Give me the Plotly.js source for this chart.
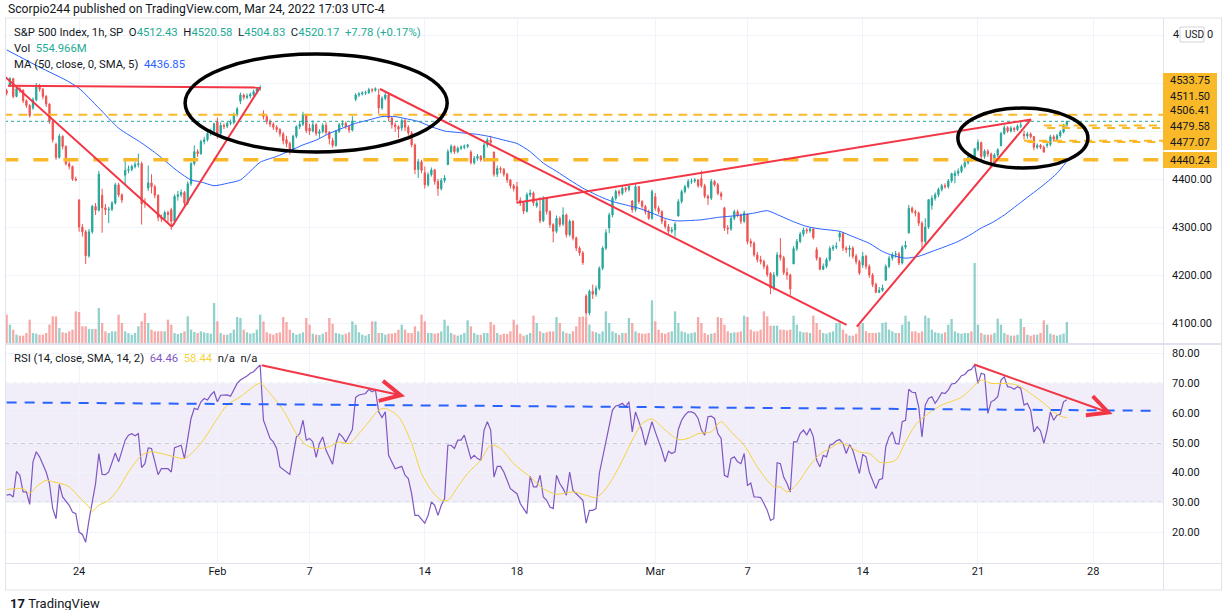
<!DOCTYPE html>
<html>
<head>
<meta charset="utf-8">
<script src="https://cdn.plot.ly/plotly-3.0.1.min.js"></script>
<style>
  html, body { margin: 0; padding: 0; background: #ffffff; }
  #chart { width: 1225px; height: 610px; }
</style>
</head>
<body>
<div id="chart"></div>
<script>
// S&P 500 index, 1h bars, 18 Jan - 24 Mar 2022 (bar 0 = first bar of 24 Jan)
var firstBar = -22;

// one line per trading day (7 hourly bars)
var opens = [4584,
  4595, 4609, 4572, 4588, 4585, 4563, 4553,
  4548, 4565, 4594, 4587, 4572, 4556, 4520,
  4472, 4445, 4489, 4468, 4432, 4426, 4400,
  4356, 4300, 4290, 4240, 4290, 4343, 4335,
  4366, 4340, 4336, 4337, 4350, 4388, 4367,
  4408, 4418, 4420, 4426, 4430, 4432, 4352,
  4381, 4392, 4384, 4366, 4320, 4318, 4330,
  4336, 4312, 4364, 4367, 4372, 4350, 4390,
  4432, 4457, 4453, 4478, 4482, 4495, 4500,
  4520, 4495, 4512, 4510, 4516, 4518, 4534,
  4562, 4575, 4570, 4573, 4576, 4582, 4589,
  4536, 4530, 4520, 4514, 4508, 4503, 4494,
  4482, 4474, 4460, 4489, 4509, 4514, 4534,
  4506, 4500, 4513, 4495, 4499, 4512, 4497,
  4480, 4470, 4499, 4513, 4516, 4509, 4502,
  4566, 4575, 4577, 4579, 4580, 4586, 4585,
  4575, 4548, 4568, 4575, 4527, 4513, 4509,
  4506, 4522, 4508, 4496, 4471, 4420, 4436,
  4413, 4388, 4409, 4419, 4395, 4380, 4397,
  4430, 4457, 4468, 4457, 4464, 4466, 4468,
  4456, 4434, 4443, 4447, 4440, 4471, 4481,
  4456, 4410, 4422, 4420, 4410, 4398, 4386,
  4384, 4356, 4350, 4333, 4367, 4371, 4344,
  4333, 4313, 4360, 4332, 4305, 4291, 4318,
  4306, 4325, 4284, 4312, 4277, 4256, 4246,
  4156, 4121, 4166, 4160, 4172, 4214, 4256,
  4298, 4325, 4360, 4374, 4370, 4381, 4378,
  4354, 4336, 4384, 4353, 4343, 4332, 4318,
  4363, 4339, 4332, 4312, 4301, 4291, 4294,
  4323, 4353, 4374, 4384, 4395, 4396, 4398,
  4401, 4386, 4364, 4360, 4395, 4388, 4370,
  4340, 4298, 4296, 4318, 4332, 4325, 4312,
  4327, 4270, 4266, 4242, 4232, 4228, 4218,
  4203, 4173, 4200, 4242, 4236, 4205, 4200,
  4223, 4255, 4270, 4285, 4294, 4292, 4296,
  4253, 4235, 4212, 4218, 4232, 4255, 4258,
  4279, 4287, 4256, 4253, 4256, 4239, 4228,
  4221, 4239, 4218, 4200, 4180, 4164, 4168,
  4189, 4218, 4235, 4242, 4244, 4225, 4258,
  4288, 4339, 4332, 4329, 4308, 4270, 4300,
  4345, 4360, 4367, 4378, 4386, 4384, 4396,
  4407, 4412, 4416, 4426, 4434, 4445, 4441,
  4462, 4476, 4447, 4458, 4452, 4432, 4450,
  4469, 4495, 4507, 4500, 4506, 4503, 4510,
  4493, 4490, 4494, 4488, 4466, 4470, 4466,
  4470, 4472, 4488, 4483, 4490, 4498, 4512.43];

var highs = [4588,
  4612, 4611, 4595, 4592, 4587, 4566, 4556,
  4570, 4600, 4598, 4590, 4575, 4558, 4523,
  4476, 4494, 4491, 4470, 4437, 4428, 4405,
  4358, 4306, 4294, 4296, 4346, 4350, 4417,
  4380, 4348, 4342, 4354, 4392, 4392, 4370,
  4440, 4428, 4430, 4436, 4453, 4436, 4360,
  4428, 4410, 4388, 4368, 4326, 4334, 4334,
  4340, 4368, 4375, 4378, 4375, 4395, 4435,
  4470, 4462, 4482, 4488, 4500, 4505, 4517,
  4528, 4518, 4516, 4520, 4524, 4538, 4550,
  4580, 4578, 4578, 4580, 4586, 4592, 4595,
  4543, 4533, 4524, 4518, 4512, 4506, 4498,
  4490, 4478, 4492, 4512, 4520, 4540, 4536,
  4515, 4522, 4516, 4504, 4516, 4518, 4500,
  4486, 4502, 4517, 4522, 4520, 4512, 4531,
  4579, 4581, 4583, 4584, 4590, 4589, 4591,
  4588, 4572, 4580, 4577, 4530, 4518, 4512,
  4526, 4525, 4512, 4500, 4474, 4442, 4440,
  4426, 4414, 4424, 4421, 4400, 4402, 4408,
  4462, 4472, 4470, 4468, 4470, 4472, 4473,
  4460, 4448, 4452, 4450, 4475, 4486, 4490,
  4457, 4428, 4426, 4423, 4413, 4400, 4390,
  4394, 4362, 4352, 4372, 4378, 4374, 4356,
  4362, 4364, 4362, 4335, 4308, 4324, 4322,
  4341, 4328, 4316, 4314, 4280, 4260, 4250,
  4160, 4170, 4180, 4178, 4218, 4260, 4295,
  4330, 4364, 4378, 4378, 4385, 4384, 4386,
  4356, 4389, 4386, 4356, 4346, 4336, 4378,
  4371, 4344, 4335, 4316, 4306, 4300, 4310,
  4358, 4378, 4388, 4400, 4401, 4402, 4400,
  4417, 4390, 4368, 4400, 4398, 4392, 4374,
  4342, 4304, 4322, 4336, 4336, 4328, 4334,
  4327, 4276, 4270, 4248, 4240, 4232, 4222,
  4206, 4206, 4248, 4277, 4240, 4215, 4203,
  4260, 4275, 4290, 4299, 4298, 4299, 4298,
  4258, 4238, 4224, 4236, 4260, 4263, 4268,
  4291, 4289, 4260, 4262, 4260, 4244, 4232,
  4248, 4242, 4222, 4204, 4184, 4175, 4180,
  4222, 4240, 4247, 4250, 4248, 4262, 4271,
  4346, 4343, 4336, 4332, 4312, 4318, 4358,
  4366, 4372, 4382, 4390, 4391, 4400, 4413,
  4418, 4422, 4430, 4438, 4449, 4450, 4465,
  4482, 4478, 4462, 4462, 4455, 4454, 4464,
  4498, 4512, 4510, 4510, 4508, 4514, 4522,
  4501, 4498, 4497, 4490, 4474, 4473, 4470,
  4478, 4492, 4492, 4494, 4502, 4515, 4520.58];

var lows = [4574,
  4592, 4568, 4570, 4580, 4558, 4548, 4528,
  4544, 4562, 4582, 4566, 4550, 4515, 4476,
  4440, 4442, 4462, 4428, 4420, 4396, 4395,
  4290, 4280, 4223, 4236, 4286, 4325, 4332,
  4288, 4325, 4308, 4333, 4347, 4362, 4350,
  4388, 4412, 4416, 4422, 4424, 4305, 4340,
  4375, 4370, 4360, 4312, 4310, 4314, 4310,
  4294, 4305, 4355, 4362, 4340, 4346, 4386,
  4428, 4446, 4450, 4472, 4478, 4490, 4496,
  4484, 4490, 4504, 4506, 4512, 4514, 4530,
  4556, 4565, 4566, 4568, 4572, 4578, 4584,
  4524, 4514, 4508, 4502, 4497, 4488, 4472,
  4466, 4451, 4456, 4485, 4504, 4510, 4496,
  4492, 4497, 4490, 4486, 4495, 4492, 4472,
  4465, 4467, 4496, 4508, 4504, 4496, 4499,
  4562, 4571, 4574, 4575, 4577, 4580, 4582,
  4536, 4544, 4564, 4520, 4505, 4498, 4485,
  4500, 4500, 4490, 4466, 4410, 4402, 4412,
  4380, 4384, 4405, 4388, 4365, 4376, 4392,
  4429, 4453, 4452, 4454, 4460, 4462, 4464,
  4430, 4430, 4438, 4436, 4436, 4466, 4470,
  4405, 4404, 4412, 4405, 4392, 4380, 4374,
  4350, 4344, 4327, 4330, 4362, 4344, 4340,
  4308, 4310, 4326, 4298, 4268, 4287, 4300,
  4302, 4278, 4280, 4272, 4250, 4240, 4221,
  4115, 4116, 4150, 4155, 4168, 4210, 4252,
  4287, 4320, 4355, 4364, 4366, 4372, 4374,
  4330, 4332, 4348, 4338, 4326, 4315, 4315,
  4334, 4326, 4306, 4296, 4285, 4287, 4280,
  4322, 4349, 4370, 4380, 4390, 4392, 4382,
  4382, 4360, 4346, 4356, 4384, 4366, 4356,
  4292, 4285, 4292, 4314, 4320, 4306, 4308,
  4264, 4258, 4238, 4226, 4222, 4212, 4196,
  4160, 4168, 4196, 4230, 4200, 4190, 4158,
  4223, 4250, 4266, 4280, 4286, 4288, 4274,
  4230, 4210, 4210, 4214, 4228, 4250, 4254,
  4270, 4250, 4246, 4238, 4234, 4222, 4200,
  4215, 4212, 4194, 4175, 4162, 4162, 4165,
  4188, 4214, 4230, 4236, 4220, 4222, 4254,
  4286, 4328, 4322, 4302, 4252, 4262, 4296,
  4336, 4355, 4362, 4374, 4380, 4380, 4392,
  4391, 4406, 4412, 4422, 4430, 4436, 4438,
  4458, 4440, 4442, 4446, 4424, 4428, 4446,
  4469, 4492, 4496, 4497, 4498, 4500, 4506,
  4482, 4484, 4484, 4460, 4462, 4462, 4455,
  4465, 4468, 4478, 4480, 4486, 4495, 4504.83];

var closes = [4579,
  4609, 4572, 4588, 4585, 4563, 4553, 4532,
  4565, 4594, 4587, 4572, 4556, 4520, 4482,
  4445, 4489, 4468, 4432, 4426, 4400, 4398,
  4300, 4290, 4240, 4290, 4343, 4335, 4410,
  4340, 4336, 4337, 4350, 4388, 4367, 4356,
  4418, 4420, 4426, 4430, 4432, 4348, 4350,
  4392, 4384, 4366, 4320, 4318, 4330, 4326,
  4312, 4364, 4367, 4372, 4350, 4390, 4432,
  4457, 4453, 4478, 4482, 4495, 4500, 4515,
  4495, 4512, 4510, 4516, 4518, 4534, 4546,
  4575, 4570, 4573, 4576, 4582, 4589, 4590,
  4530, 4520, 4514, 4508, 4503, 4494, 4480,
  4474, 4460, 4489, 4509, 4514, 4534, 4501,
  4500, 4513, 4495, 4499, 4512, 4497, 4484,
  4470, 4499, 4513, 4516, 4509, 4502, 4521,
  4575, 4577, 4579, 4580, 4586, 4585, 4588,
  4548, 4568, 4575, 4527, 4513, 4509, 4504,
  4522, 4508, 4496, 4471, 4420, 4436, 4418,
  4388, 4409, 4419, 4395, 4380, 4397, 4402,
  4457, 4468, 4457, 4464, 4466, 4468, 4471,
  4434, 4443, 4447, 4440, 4471, 4481, 4476,
  4410, 4422, 4420, 4410, 4398, 4386, 4380,
  4356, 4350, 4333, 4367, 4371, 4350, 4350,
  4313, 4360, 4332, 4305, 4291, 4318, 4305,
  4325, 4284, 4312, 4277, 4256, 4246, 4226,
  4121, 4166, 4160, 4172, 4214, 4256, 4288,
  4325, 4360, 4374, 4370, 4381, 4378, 4385,
  4336, 4384, 4353, 4343, 4332, 4318, 4374,
  4339, 4332, 4312, 4301, 4291, 4294, 4306,
  4353, 4374, 4384, 4395, 4396, 4398, 4386,
  4386, 4364, 4360, 4395, 4388, 4370, 4364,
  4298, 4296, 4318, 4332, 4325, 4312, 4329,
  4270, 4266, 4242, 4232, 4228, 4218, 4201,
  4173, 4200, 4242, 4236, 4205, 4200, 4171,
  4255, 4270, 4285, 4294, 4292, 4296, 4278,
  4235, 4212, 4218, 4232, 4255, 4258, 4260,
  4287, 4256, 4253, 4256, 4239, 4228, 4204,
  4239, 4218, 4200, 4180, 4164, 4168, 4173,
  4218, 4235, 4242, 4244, 4225, 4258, 4262,
  4339, 4332, 4329, 4308, 4270, 4300, 4357,
  4360, 4367, 4378, 4386, 4384, 4396, 4411,
  4412, 4416, 4426, 4434, 4445, 4441, 4463,
  4476, 4447, 4458, 4452, 4432, 4450, 4461,
  4495, 4507, 4500, 4506, 4503, 4510, 4512,
  4490, 4494, 4488, 4466, 4470, 4466, 4456,
  4472, 4488, 4483, 4490, 4498, 4512, 4520.17];

// volume, millions
var volumes = [748,
  484, 352, 220, 194, 194, 264, 616,
  264, 246, 220, 220, 264, 484, 704,
  704, 396, 282, 264, 308, 352, 836,
  818, 440, 440, 370, 370, 370, 924,
  528, 308, 264, 308, 308, 748, 528,
  308, 264, 220, 264, 440, 572, 792,
  528, 352, 308, 308, 308, 308, 616,
  484, 264, 238, 264, 308, 704, 352,
  290, 264, 308, 282, 264, 246, 1056,
  572, 264, 220, 220, 264, 352, 686,
  660, 352, 282, 246, 264, 352, 748,
  572, 282, 246, 220, 264, 282, 686,
  554, 352, 264, 220, 246, 282, 660,
  484, 246, 220, 211, 246, 290, 660,
  510, 264, 246, 220, 246, 282, 572,
  484, 282, 220, 194, 238, 572, 572,
  264, 264, 220, 246, 250, 264, 352,
  484, 352, 264, 264, 440, 308, 748,
  572, 264, 264, 246, 264, 308, 616,
  458, 264, 220, 194, 220, 264, 598,
  440, 264, 220, 220, 264, 264, 554,
  484, 264, 220, 246, 238, 308, 616,
  484, 246, 194, 220, 264, 722, 528,
  308, 264, 282, 308, 308, 686, 528,
  308, 264, 246, 308, 440, 686, 700,
  704, 484, 308, 282, 246, 308, 836,
  528, 308, 264, 220, 264, 264, 660,
  528, 308, 264, 246, 246, 264, 1126,
  572, 352, 264, 246, 282, 308, 836,
  528, 308, 282, 246, 264, 282, 686,
  528, 264, 220, 246, 264, 686, 660,
  484, 308, 264, 282, 282, 308, 722,
  686, 352, 308, 308, 352, 836, 704,
  458, 458, 458, 352, 352, 334, 352,
  722, 484, 308, 282, 282, 264, 722,
  528, 352, 264, 246, 282, 308, 528,
  546, 352, 246, 194, 194, 246, 484,
  528, 308, 264, 264, 264, 282, 528,
  546, 352, 308, 264, 264, 484, 722,
  572, 308, 308, 264, 308, 722, 660,
  352, 282, 264, 246, 282, 484, 634,
  308, 264, 246, 264, 264, 308, 2112,
  484, 264, 220, 220, 220, 264, 642,
  484, 264, 220, 194, 194, 220, 642,
  422, 220, 194, 220, 220, 264, 598,
  484, 246, 220, 194, 220, 250, 554.966];

// MA(50)
var maBars = [-22, -12, -4, 0, 6, 12, 19, 24, 30, 34, 37, 41, 45, 49, 52, 55, 60, 64, 68, 72, 76, 80, 84, 88, 92, 96, 99, 103, 107, 111, 115, 121, 125, 129, 133, 137, 141, 145, 149, 153, 158, 162, 166, 170, 174, 178, 181, 184, 189, 194, 200, 205, 209, 213, 217, 221, 225, 231, 235, 240, 244, 247, 251, 255, 259, 263, 267, 271, 274, 277, 281, 285, 289, 293, 297, 300];
var maValues = [4669, 4633, 4606, 4589, 4548, 4506, 4475, 4450, 4416, 4398, 4394, 4386, 4391, 4398, 4416, 4435, 4447, 4459, 4471, 4481, 4495, 4506, 4516, 4523, 4530, 4530, 4526, 4520, 4509, 4500, 4497, 4493, 4488, 4481, 4474, 4457, 4433, 4416, 4398, 4381, 4364, 4353, 4346, 4339, 4329, 4318, 4313, 4313, 4315, 4320, 4324, 4329, 4334, 4323, 4311, 4301, 4296, 4291, 4280, 4266, 4249, 4241, 4235, 4239, 4249, 4259, 4270, 4285, 4298, 4308, 4325, 4346, 4367, 4388, 4412, 4436.85];

// RSI(14)
var rsiBars = [-22, -21, -20, -19, -18, -17, -16, -15, -14, -13, -12, -10, -9, -8, -7, -6, -5, -3, -2, -1,
  0, 1, 2, 3, 5, 6, 7, 8, 9, 11, 12, 14, 15, 16, 17, 18, 19, 20, 21, 22, 24, 25, 27, 28, 29, 31, 32, 34, 35, 36,
  37, 38, 39, 40, 41, 42, 43, 45, 46, 47, 48, 49, 50, 51, 52, 53, 54, 55, 56, 57, 58, 59, 60, 61, 63, 64, 65, 66, 67, 68,
  69, 70, 71, 72, 73, 74, 75, 77, 78, 79, 80, 81, 83, 84, 85, 87, 88, 89, 90, 91, 92, 93,
  94, 95, 96, 98, 99, 100, 101, 102, 103, 105, 106, 107, 108, 109, 110, 111, 112, 113, 114, 115, 116, 117, 119, 120,
  121, 122, 123, 124, 125, 126, 127, 128, 129, 130, 131, 133, 134, 135, 136, 137, 138, 139, 140, 141, 142, 143, 144,
  145, 146, 147, 148, 149, 150, 151, 153, 154, 155, 156, 157, 158, 160, 161, 162, 163, 164, 165, 166, 167, 168, 169,
  170, 171, 172, 173, 174, 175, 176, 177, 178, 179, 180, 181, 182, 183, 184, 185, 186, 187, 188, 189, 190, 191, 192,
  193, 194, 195, 196, 197, 198, 199, 200, 201, 202, 203, 204, 205, 206, 207, 208, 209,
  210, 211, 212, 213, 214, 215, 216, 217, 218, 219, 220, 221, 222, 223, 224, 225, 226, 227, 228, 229, 230, 231, 232,
  233, 234, 235, 236, 237, 238, 239, 240, 241, 242, 243, 244, 245, 246, 247, 248, 249, 250, 251, 252, 253, 254, 255,
  256, 257, 258, 259, 260, 261, 262, 263, 264, 265, 266, 267, 268, 269, 270, 271, 272, 273, 274, 275, 276, 277, 278,
  279, 280, 281, 282, 283, 284, 285, 286, 287, 288, 289, 290, 291, 292, 293, 294, 295, 296, 297, 298, 299, 300];
var rsiValues = [32.4, 32.7, 31.8, 40.4, 39.1, 33.5, 33.5, 29.3, 43.6, 47.0, 45.3, 40.2, 36.3, 27.9, 24.5, 36.1, 31.8, 29.0, 26.7, 26.2,
  20.0, 19.2, 16.6, 23.9, 36.3, 46.4, 39.4, 39.3, 40.2, 46.6, 43.6, 50.9, 52.6, 53.1, 52.4, 53.1, 41.7, 43.0, 48.3, 48.1, 39.3, 41.3, 41.3, 40.2, 48.4, 49.2, 44.7, 58.2, 61.6, 61.2,
  63.8, 64.9, 64.4, 66.1, 67.2, 63.8, 66.0, 66.1, 65.7, 67.8, 70.0, 71.1, 71.7, 72.5, 73.4, 73.9, 75.1, 76.2, 57.6, 54.3, 51.5, 50.3, 48.1, 41.9, 40.2, 39.4, 45.8, 52.0, 53.1, 57.6,
  50.9, 51.5, 50.3, 45.1, 49.8, 52.0, 47.5, 42.8, 49.8, 53.1, 52.0, 50.3, 54.5, 65.3, 66.1, 66.6, 68.0, 67.2, 67.8, 60.4, 58.5, 60.4,
  45.8, 43.6, 41.3, 42.1, 39.1, 38.0, 32.9, 25.6, 25.6, 23.0, 25.6, 30.1, 29.0, 25.6, 29.0, 31.2, 49.2, 49.2, 48.1, 50.9, 50.9, 52.6, 44.7, 45.8,
  44.7, 44.2, 54.3, 57.1, 54.3, 38.5, 42.1, 42.1, 40.2, 37.4, 34.6, 32.9, 29.6, 27.9, 26.2, 38.8, 35.2, 35.2, 39.1, 31.8, 30.7, 28.4, 27.9,
  39.1, 36.3, 34.6, 32.4, 40.2, 34.0, 32.9, 30.7, 23.0, 27.3, 27.3, 27.9, 39.7, 50.9, 56.5, 61.0, 62.4, 62.7, 63.3, 62.1, 63.8, 53.7, 60.4,
  57.1, 54.0, 49.2, 53.1, 57.1, 53.7, 50.9, 47.5, 43.6, 47.2, 46.4, 47.0, 54.5, 57.6, 59.3, 60.4, 60.4, 59.9, 58.2, 54.3, 52.6, 58.8, 59.0,
  58.2, 53.1, 51.5, 39.1, 38.5, 44.7, 45.3, 43.6, 43.0, 46.4, 35.7, 36.5, 31.8, 31.8, 31.6, 29.6, 27.3,
  23.9, 24.5, 43.3, 43.0, 38.5, 36.3, 33.5, 50.3, 50.3, 53.1, 54.3, 52.6, 54.8, 52.0, 44.2, 41.9, 45.8, 45.3, 49.2, 49.6, 50.7, 51.1, 49.8,
  46.4, 49.4, 47.5, 43.6, 39.7, 46.1, 45.3, 40.2, 37.4, 34.6, 37.6, 38.0, 48.7, 52.0, 53.7, 49.8, 49.6, 57.1, 57.6, 68.0, 67.0, 66.9, 62.1,
  52.0, 62.7, 64.9, 65.5, 63.3, 64.9, 66.9, 66.6, 67.8, 69.8, 70.0, 71.1, 72.6, 73.0, 74.3, 74.7, 76.2, 70.0, 73.4, 73.0, 59.9, 63.8, 64.4,
  65.5, 71.1, 72.2, 68.9, 68.7, 68.0, 68.9, 68.3, 62.7, 63.3, 61.0, 53.7, 55.4, 54.0, 49.8, 54.3, 60.4, 57.6, 59.3, 59.7, 63.8, 64.46];

// RSI-based MA(14), yellow line
var rsiMaBars = [-22, -17, -15, -13, -10, -8, -6, -3, 0, 3, 4, 6, 9, 12, 15, 19, 22, 25, 29, 32, 37, 41, 45, 49, 53, 55, 58, 62, 66, 69, 72, 76, 79, 82, 85, 88, 91, 93, 97, 101, 104, 107, 110, 112, 115, 118, 122, 125, 128, 132, 137, 141, 145, 150, 154, 157, 160, 164, 168, 171, 174, 178, 182, 185, 188, 192, 195, 198, 202, 206, 209, 211, 213, 215, 218, 222, 225, 228, 231, 234, 237, 240, 243, 245, 248, 251, 254, 258, 262, 268, 271, 274, 277, 281, 285, 289, 293, 296, 298, 300];
var rsiMaValues = [34.3, 34.6, 33.1, 35.2, 37.4, 36.9, 36.5, 35.2, 31.8, 28.4, 27.1, 29.0, 30.7, 34.6, 40.2, 45.8, 47.0, 46.4, 45.3, 44.7, 49.8, 56.5, 62.7, 65.5, 68.9, 70.0, 66.6, 61.0, 53.1, 49.2, 48.1, 48.7, 50.3, 49.8, 53.1, 57.1, 61.0, 61.6, 58.8, 49.8, 39.7, 34.0, 30.7, 30.7, 35.2, 39.7, 44.2, 49.2, 48.1, 43.0, 38.5, 34.6, 32.7, 33.5, 32.4, 31.6, 34.6, 41.9, 50.9, 56.5, 58.0, 54.3, 51.1, 51.5, 53.1, 53.7, 57.1, 53.7, 49.2, 41.9, 37.4, 35.2, 35.2, 33.5, 36.1, 42.5, 46.2, 48.1, 50.0, 48.7, 46.9, 46.4, 43.6, 43.3, 44.2, 50.3, 56.0, 59.9, 62.7, 65.3, 68.3, 71.1, 70.0, 70.0, 69.4, 66.6, 63.3, 60.4, 59.0, 58.44];

// time axis
var dayStartBars = [0, 42, 70, 105, 133, 175, 203, 238, 273, 308];
var dayLabels = ['24', 'Feb', '7', '14', '18', 'Mar', '7', '14', '21', '28'];
var priceTicks = [4100, 4200, 4300, 4400, 4500, 4600, 4700];
var rsiTicks = [20, 30, 40, 50, 60, 70, 80];

// horizontal levels drawn by the author and where each one starts
var levelPrices = [4533.75, 4511.50, 4506.41, 4479.58, 4477.07, 4440.24];
var levelStartBars = [-23, 293, 294, 287, 288, -23];
var lastPrice = 4520.17;

// author drawings, in [bar, value]
var priceTrendLines = [
  [[-21.6, 4594.4], [55, 4590.6]],
  [[-22.5, 4613], [28.2, 4300.6], [55, 4591]],
  [[91.4, 4587.5], [233.1, 4096]],
  [[132.9, 4350.6], [289.1, 4524]],
  [[236.2, 4092.4], [289.1, 4524]]
];
var priceEllipses = [
  {bars: [32.2, 111.8], prices: [4456.3, 4660.4]},
  {bars: [266.9, 306.4], prices: [4422.9, 4547.9]}
];
var rsiArrows = [
  [[55, 76.2], [99, 65.7]],
  [[271.4, 76.5], [313.9, 59.7]]
];
var rsiBlueLine = [[-22, 63.6], [326, 60.8]];

// ---------------------------------------------------------------
var W = 1225, H = 610;
var M = {l: 5, r: 62, t: 18, b: 47};
var PW = W - M.l - M.r, PH = H - M.t - M.b;
function px2x(px) { return (px - M.l) / PW; }
function py2y(py) { return (H - M.b - py) / PH; }

var FONT = 'Roboto, Arial, sans-serif';
var TXT = '#131722';
var GRID = '#f0f3fa';
var BORDER = '#e0e3eb';
var UP = '#26a69a', DOWN = '#ef5350';
var ORANGE = '#f9b928';

var bars = closes.map(function (c, k) { return firstBar + k; });
var volColors = closes.map(function (c, k) {
  return c >= opens[k] ? 'rgba(38,166,154,0.5)' : 'rgba(239,83,80,0.5)';
});

var traces = [
  {
    type: 'bar', x: bars, y: volumes, yaxis: 'y3', xaxis: 'x',
    marker: {color: volColors, line: {width: 0}}, width: 0.7, hoverinfo: 'skip'
  },
  {
    type: 'candlestick', x: bars, open: opens, high: highs, low: lows, close: closes,
    xaxis: 'x', yaxis: 'y', whiskerwidth: 0,
    increasing: {line: {color: UP, width: 1}, fillcolor: UP},
    decreasing: {line: {color: DOWN, width: 1}, fillcolor: DOWN},
    hoverinfo: 'skip'
  },
  {
    type: 'scatter', mode: 'lines', x: maBars, y: maValues, xaxis: 'x', yaxis: 'y',
    line: {color: '#2962ff', width: 1, shape: 'spline', smoothing: 0.6}, hoverinfo: 'skip'
  },
  {
    type: 'scatter', mode: 'lines', x: rsiBars, y: rsiValues, xaxis: 'x', yaxis: 'y2',
    line: {color: '#7e57c2', width: 1.2}, hoverinfo: 'skip'
  },
  {
    type: 'scatter', mode: 'lines', x: rsiMaBars, y: rsiMaValues, xaxis: 'x', yaxis: 'y2',
    line: {color: '#f5d33f', width: 1, shape: 'spline', smoothing: 0.8}, hoverinfo: 'skip'
  }
];

var shapes = [];
// RSI band and its guide lines
shapes.push({type: 'rect', xref: 'paper', yref: 'y2', x0: 0, x1: 1, y0: 30, y1: 70,
  fillcolor: 'rgba(126,87,194,0.1)', line: {width: 0}, layer: 'below'});
[70, 50, 30].forEach(function (v) {
  shapes.push({type: 'line', xref: 'paper', yref: 'y2', x0: 0, x1: 1, y0: v, y1: v,
    line: {color: '#8a8d96', width: 1, dash: '4px,4px'}, layer: 'below'});
});
// last price dotted line
shapes.push({type: 'line', xref: 'paper', yref: 'y', x0: 0, x1: 1, y0: lastPrice, y1: lastPrice,
  line: {color: UP, width: 1, dash: 'dot'}});
// orange horizontal levels
levelPrices.forEach(function (p, k) {
  var full = levelStartBars[k] < 0;
  var dash = p === 4440.24 ? '15px,15px' : (full ? '9px,6px' : '8px,7px');
  var width = p === 4440.24 ? 3.5 : 2;
  shapes.push({type: 'line', xref: 'x', yref: 'y', x0: levelStartBars[k], x1: 330, y0: p, y1: p,
    line: {color: ORANGE, width: width, dash: dash}});
});
// red trend lines on the price pane
priceTrendLines.forEach(function (pts) {
  for (var k = 1; k < pts.length; k++) {
    shapes.push({type: 'line', xref: 'x', yref: 'y',
      x0: pts[k - 1][0], y0: pts[k - 1][1], x1: pts[k][0], y1: pts[k][1],
      line: {color: '#f23645', width: 2}});
  }
});
// black ellipses
priceEllipses.forEach(function (e) {
  shapes.push({type: 'circle', xref: 'x', yref: 'y', x0: e.bars[0], x1: e.bars[1],
    y0: e.prices[0], y1: e.prices[1], line: {color: '#000000', width: 3.5}});
});
// blue dashed RSI line
shapes.push({type: 'line', xref: 'x', yref: 'y2', x0: rsiBlueLine[0][0], y0: rsiBlueLine[0][1],
  x1: rsiBlueLine[1][0], y1: rsiBlueLine[1][1], line: {color: '#2962ff', width: 2, dash: '10px,8px'}});

// frame lines
function hline(py, x0, x1, w) {
  shapes.push({type: 'line', xref: 'paper', yref: 'paper', x0: px2x(x0), x1: px2x(x1),
    y0: py2y(py), y1: py2y(py), line: {color: BORDER, width: w || 1}});
}
function vline(px, y0, y1) {
  shapes.push({type: 'line', xref: 'paper', yref: 'paper', x0: px2x(px), x1: px2x(px),
    y0: py2y(y0), y1: py2y(y1), line: {color: BORDER, width: 1}});
}
hline(18, 5, 1222); hline(344, 5, 1222, 2); hline(563.5, 5, 1222); hline(590, 5, 1222);
vline(5.5, 18, 590); vline(1163.5, 18, 590); vline(1221.5, 18, 590);

// orange price label blocks and the currency badge on the axis
function rectPx(x0, y0, x1, y1, fill, line) {
  shapes.push({type: 'rect', xref: 'paper', yref: 'paper', x0: px2x(x0), x1: px2x(x1),
    y0: py2y(y1), y1: py2y(y0), fillcolor: fill, line: line || {width: 0}, layer: 'above'});
}
rectPx(1163, 73, 1217, 150, ORANGE);
rectPx(1163, 152, 1217, 168, ORANGE);
rectPx(1180, 27, 1204, 42, '#ffffff', {color: '#d1d4dc', width: 1});

var annotations = [];
function textAt(px, py, html, size, extra) {
  var a = {xref: 'paper', yref: 'paper', x: px2x(px), y: py2y(py), xanchor: 'left', yanchor: 'middle',
    showarrow: false, text: html, font: {family: FONT, size: size || 12, color: TXT}};
  for (var k in extra || {}) a[k] = extra[k];
  annotations.push(a);
}
function col(c, s) { return '<span style="color:' + c + '">' + s + '</span>'; }
var NB = '\u00a0';
var TEAL = '#22ab94';
var HS = 11.3;

textAt(6, 9, 'Scorpio244 published on TradingView.com, Mar 24, 2022 17:03 UTC-4', 12.2);
textAt(12, 33, 'S&amp;P 500 Index, 1h, SP' + NB + NB + 'O' + col(TEAL, '4512.43') + NB + NB + 'H' + col(TEAL, '4520.58') +
  NB + NB + 'L' + col(TEAL, '4504.83') + NB + NB + 'C' + col(TEAL, '4520.17') + NB + NB + col(TEAL, '+7.78 (+0.17%)'), HS);
textAt(12, 49, 'Vol' + NB + NB + col(TEAL, '554.966M'), HS);
textAt(12, 65, 'MA (50, close, 0, SMA, 5)' + NB + NB + col('#2962ff', '4436.85'), HS);
textAt(12, 358, 'RSI (14, close, SMA, 14, 2)' + NB + NB + col('#7e57c2', '64.46') + NB + NB + col('#f5d33f', '58.44') +
  NB + NB + 'n/a' + NB + NB + 'n/a', HS);

var labelY = [80, 96, 111, 127, 143, 160];
levelPrices.forEach(function (p, k) {
  textAt(1168, labelY[k], p.toFixed(2), 11);
});
// the 4700.00 tick label is hidden behind the USD badge: only its first and last digit show
textAt(1171, 35, '4', 11);
textAt(1205, 35, '0', 11);
textAt(1183, 34.5, 'USD', 10);
textAt(8, 603, '<b>17</b>' + NB + 'TradingView', 13);

rsiArrows.forEach(function (a) {
  annotations.push({xref: 'x', yref: 'y2', axref: 'x', ayref: 'y2',
    x: a[1][0], y: a[1][1], ax: a[0][0], ay: a[0][1], text: '', showarrow: true,
    arrowhead: 5, arrowsize: 2, arrowwidth: 2, arrowcolor: '#f23645'});
});

var axisFont = {family: FONT, size: 11, color: TXT};
var layout = {
  width: W, height: H, margin: M,
  paper_bgcolor: '#ffffff', plot_bgcolor: '#ffffff',
  showlegend: false, boxgap: 0.45, bargap: 0.3,
  xaxis: {
    range: [-22.5, 329.2], anchor: 'y2', tickmode: 'array', tickvals: dayStartBars, ticktext: dayLabels,
    showgrid: true, gridcolor: GRID, zeroline: false, showline: false, ticks: '',
    tickfont: axisFont, rangeslider: {visible: false}, fixedrange: true
  },
  yaxis: {
    domain: [py2y(343), 1], range: [4058.33, 4735.42], side: 'right', anchor: 'x',
    tickmode: 'array', tickvals: priceTicks,
    ticktext: priceTicks.map(function (v) { return (v >= 4500) ? '' : v.toFixed(2); }),
    showgrid: true, gridcolor: GRID, zeroline: false, ticks: '', ticklabelstandoff: 8,
    tickfont: axisFont, fixedrange: true
  },
  yaxis2: {
    domain: [0, py2y(345)], range: [9.6, 82.9], side: 'right', anchor: 'x',
    tickmode: 'array', tickvals: rsiTicks, ticktext: rsiTicks.map(function (v) { return v.toFixed(2); }),
    showgrid: true, gridcolor: GRID, zeroline: false, ticks: '', ticklabelstandoff: 8,
    tickfont: axisFont, fixedrange: true
  },
  yaxis3: {
    overlaying: 'y', range: [0, 8580], visible: false, fixedrange: true
  },
  shapes: shapes,
  annotations: annotations
};

Plotly.newPlot('chart', traces, layout, {displayModeBar: false, staticPlot: true});
</script>
</body>
</html>
